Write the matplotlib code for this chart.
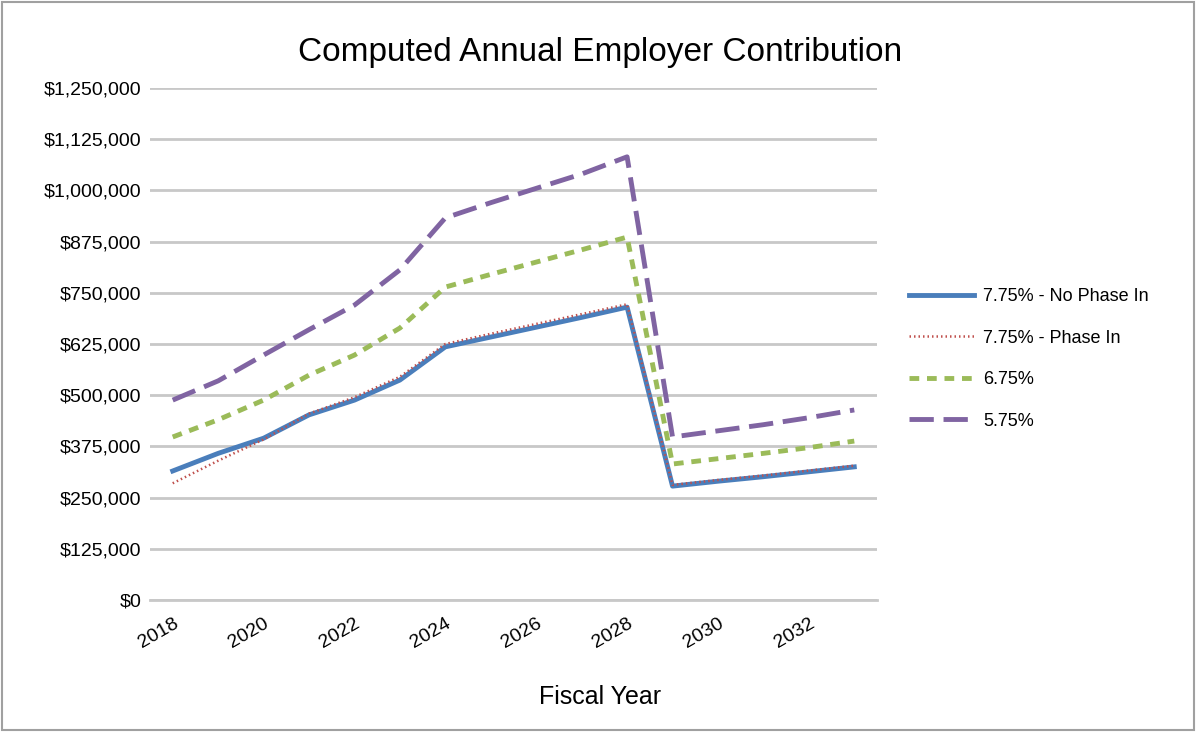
import matplotlib
matplotlib.use("Agg")
import matplotlib.pyplot as plt
from matplotlib.ticker import FuncFormatter
from matplotlib.patches import Rectangle

plt.rcParams['font.family'] = ['Liberation Sans', 'DejaVu Sans']

years = list(range(2018, 2034))
no_phase = [315000, 358000, 395000, 452000, 488000, 537000, 618000, 642000, 666000, 690000, 715000, 278000, 290000, 301000, 313000, 325000]
phase_in = [285000, 340000, 392000, 455000, 495000, 545000, 625000, 650000, 674000, 698000, 722000, 281000, 293000, 304000, 316000, 328000]
r675 = [398000, 440000, 488000, 549000, 598000, 664000, 764000, 795000, 825000, 855000, 886000, 332000, 345000, 358000, 372000, 388000]
r575 = [488000, 535000, 598000, 660000, 720000, 806000, 933000, 970000, 1005000, 1040000, 1082000, 398000, 413000, 428000, 445000, 464000]
labels = ["7.75% - No Phase In", "7.75% - Phase In", "6.75%", "5.75%"]

fig = plt.figure(figsize=(11.96, 7.32), dpi=100)
ax = fig.add_axes([150/1196, 1-600/732, 727/1196, 512/732])
x = list(range(len(years)))
ax.plot(x, no_phase, color='#4a7ebb', lw=3.5, label=labels[0])
ax.plot(x, phase_in, color='#c0504d', lw=1.8, ls=(0, (0.6, 1.2)), label=labels[1])
ax.plot(x, r675, color='#9bbb59', lw=3.5, ls=(0, (2, 1.6)), label=labels[2])
ax.plot(x, r575, color='#8064a2', lw=3.5, ls=(0, (5, 2)), label=labels[3])

ax.set_xlim(-0.5, len(years)-0.5)
ax.set_ylim(0, 1250000)
ax.set_yticks(range(0, 1250001, 125000))
ax.yaxis.set_major_formatter(FuncFormatter(lambda v, p: f"${v:,.0f}"))
ax.set_xticks(x[::2])
ax.set_xticklabels([str(y) for y in years[::2]], rotation=30, ha='right', rotation_mode='anchor', fontsize=14)
ax.tick_params(axis='y', labelsize=14, length=0, pad=6)
ax.tick_params(axis='x', length=0, pad=11)
ax.grid(axis='y', color='#c8c8c8', lw=2)
ax.set_axisbelow(True)
for s in ['top', 'right', 'left']:
    ax.spines[s].set_visible(False)
ax.spines['bottom'].set_color('#c8c8c8')
ax.spines['bottom'].set_linewidth(2)
fig.text(600/1196, 1-697/732, "Fiscal Year", ha='center', va='center', fontsize=18)
fig.text(600/1196, 1-52/732, "Computed Annual Employer Contribution", ha='center', va='center', fontsize=24)
fig.legend(*ax.get_legend_handles_labels(), loc='center left', bbox_to_anchor=(893/1196, 1-359/732),
           frameon=False, fontsize=13, handlelength=3.6, labelspacing=1.35, handletextpad=0.5)
fig.patches.append(Rectangle((0.002, 0.003), 0.996, 0.994, transform=fig.transFigure,
                             fill=False, edgecolor='#a0a0a0', lw=1.5))
fig.savefig("out.png", dpi=100)
